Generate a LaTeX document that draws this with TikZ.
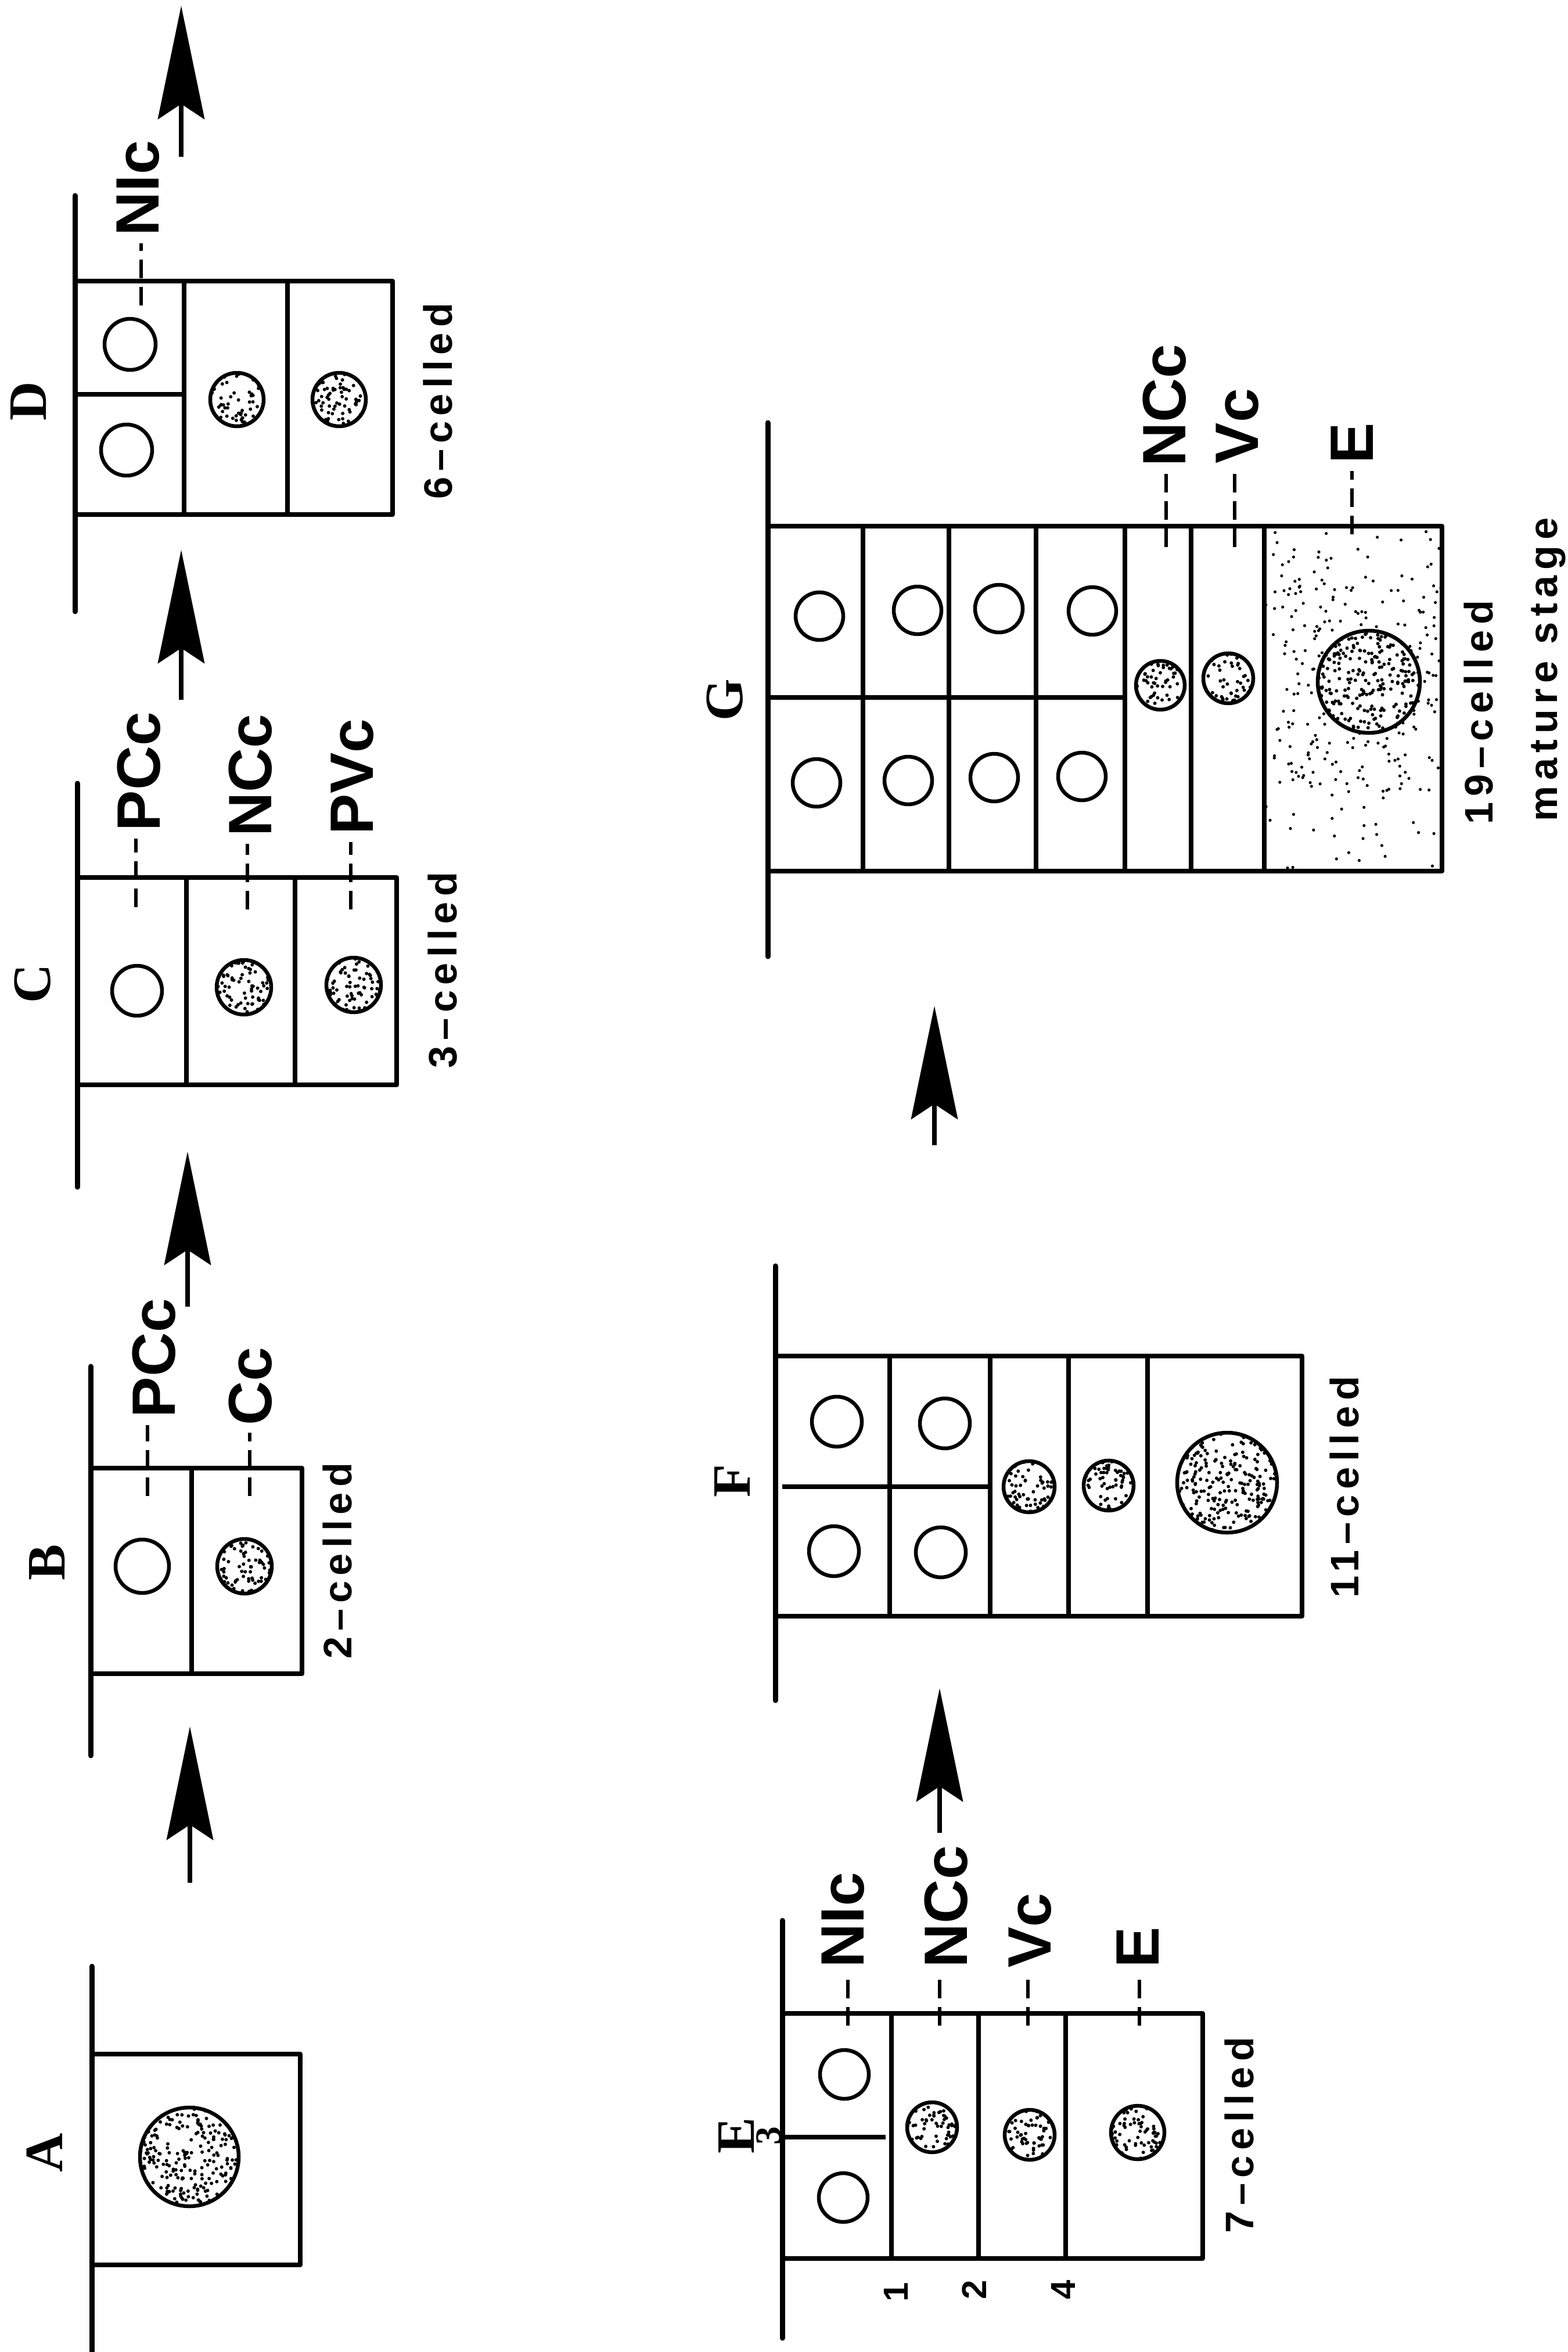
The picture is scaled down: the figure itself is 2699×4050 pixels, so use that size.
\documentclass[tikz,border=0pt]{standalone}
\usepackage{fontspec}
\setmainfont{Liberation Serif}
\newfontfamily\labfont{Liberation Sans}
\newfontfamily\cntfont[LetterSpace=14]{Liberation Sans}
\usetikzlibrary{arrows.meta}
\newcommand\stipnuc[4]{%
  \fill[white] (#1,#2) circle (#3);
  \begin{scope}
    \clip (#1,#2) circle (#3);
    \pgfmathtruncatemacro\stipn{1.6*#4}
    \foreach \k in {1,...,\stipn} {\fill ({#1+#3*rand},{#2+#3*rand}) circle (3.0);}
  \end{scope}
  \draw[nucl] (#1,#2) circle (#3);
}
\newcommand\opennuc[3]{\draw[nucl] (#1,#2) circle (#3);}
\begin{document}
\begin{tikzpicture}[x=0.1mm,y=-0.1mm,line join=round,
  wallline/.style={line width=0.9mm,line cap=round},
  cellbox/.style={line width=0.8mm},
  nucl/.style={line width=0.65mm},
  leader/.style={line width=0.55mm,dash pattern=on 3.2mm off 1.5mm,shorten >=1.2mm},
  lbl/.style={font=\labfont\bfseries\fontsize{30}{36}\selectfont,inner sep=0pt,rotate=90,anchor=west},
  cnt/.style={font=\cntfont\bfseries\fontsize{19.5}{24}\selectfont,inner sep=0pt,rotate=90,anchor=west},
  panel/.style={font=\bfseries\fontsize{26.5}{30}\selectfont,inner sep=0pt,rotate=90},
  num/.style={font=\labfont\bfseries\fontsize{17}{20}\selectfont,inner sep=0pt,rotate=90},
  growth/.style={line width=0.85mm,-{Stealth[length=19.5mm,width=8mm,inset=2.6mm]}}]
\useasboundingbox (0,0) rectangle (2699,4050);
\pgfmathsetseed{4242}

% ---------- A ----------
\draw[wallline] (158,3386) -- (158,4050);
\draw[cellbox] (158,3537) rectangle (517,3900);
\stipnuc{326}{3714}{85}{160}
\node[panel] (pA) at (77,3707) {A};

% ---------- B ----------
\draw[wallline] (156,2353) -- (156,3023);
\draw[cellbox] (156,2528) rectangle (520,2882);
\draw[cellbox] (330,2528) -- (330,2882);
\opennuc{245}{2697}{46}
\stipnuc{421}{2697}{47}{50}
\node[lbl] (bpcc) at (265,2442) {PCc};
\node[lbl] (bcc) at (431,2455) {Cc};
\coordinate (bpccl) at (254,2576);
\coordinate (bccl) at (430,2576);
\draw[leader] (bpccl) -- (bpccl |- bpcc.west);
\draw[leader] (bccl) -- (bccl |- bcc.west);
\node[cnt] (bcnt) at (581,2857) {2–celled};
\node[panel] (pB) at (81,2690) {B};

% ---------- C ----------
\draw[wallline] (133,1349) -- (133,2044);
\draw[cellbox] (133,1511) rectangle (683,1868);
\draw[cellbox] (321,1511) -- (321,1868);
\draw[cellbox] (508,1511) -- (508,1868);
\opennuc{236}{1706}{43}
\stipnuc{420}{1700}{47}{50}
\stipnuc{609}{1696}{47}{50}
\node[lbl] (cpcc) at (239,1432) {PCc};
\node[lbl] (cncc) at (431,1441) {NCc};
\node[lbl] (cpvc) at (607,1438) {PVc};
\coordinate (cpccl) at (234,1562);
\coordinate (cnccl) at (426,1566);
\coordinate (cpvcl) at (604,1566);
\draw[leader] (cpccl) -- (cpccl |- cpcc.west);
\draw[leader] (cnccl) -- (cnccl |- cncc.west);
\draw[leader] (cpvcl) -- (cpvcl |- cpvc.west);
\node[cnt] (ccnt) at (762,1840) {3–celled};
\node[panel] (pC) at (56,1694) {C};

% ---------- D ----------
\draw[wallline] (129,337) -- (129,1053);
\draw[cellbox] (129,484) rectangle (676,886);
\draw[cellbox] (317,484) -- (317,886);
\draw[cellbox] (495,484) -- (495,886);
\draw[cellbox] (129,679) -- (317,679);
\opennuc{224}{593}{44}
\opennuc{218}{775}{44}
\stipnuc{408}{688}{46}{48}
\stipnuc{584}{688}{46}{48}
\node[lbl] (dnic) at (238,407) {NIc};
\coordinate (dnicl) at (243,526);
\draw[leader] (dnicl) -- (dnicl |- dnic.west);
\node[cnt] (dcnt) at (754,860) {6–celled};
\node[panel] (pD) at (49,691) {D};

% ---------- E ----------
\draw[wallline] (1347,3307) -- (1347,4026);
\draw[cellbox] (1347,3467) rectangle (2071,3889);
\draw[cellbox] (1535,3467) -- (1535,3889);
\draw[cellbox] (1685,3467) -- (1685,3889);
\draw[cellbox] (1835,3467) -- (1835,3889);
\draw[cellbox] (1347,3680) -- (1525,3680);
\opennuc{1454}{3572}{42}
\opennuc{1452}{3784}{42}
\stipnuc{1605}{3663}{43}{42}
\stipnuc{1773}{3676}{43}{42}
\stipnuc{1959}{3672}{46}{48}
\node[lbl] (enic) at (1452,3389) {NIc};
\node[lbl] (encc) at (1629,3389) {NCc};
\node[lbl] (evc) at (1774,3389) {Vc};
\node[lbl] (ee) at (1959,3389) {E};
\coordinate (enicl) at (1460,3488);
\coordinate (enccl) at (1618,3488);
\coordinate (evcl) at (1770,3488);
\coordinate (eel) at (1962,3488);
\draw[leader] (enicl) -- (enicl |- enic.west);
\draw[leader] (enccl) -- (enccl |- encc.west);
\draw[leader] (evcl) -- (evcl |- evc.west);
\draw[leader] (eel) -- (eel |- ee.west);
\node[cnt] (ecnt) at (2134,3846) {7–celled};
\node[panel] (pE) at (1268,3677) {E};
\node[panel,font=\bfseries\fontsize{18}{20}\selectfont] (n3) at (1324,3678) {3};
\node[num] (n1) at (1543,3947) {1};
\node[num] (n2) at (1678,3943) {2};
\node[num] (n4) at (1831,3943) {4};

% ---------- F ----------
\draw[wallline] (1335,2180) -- (1335,2928);
\draw[cellbox] (1335,2335) rectangle (2242,2783);
\draw[cellbox] (1532,2335) -- (1532,2783);
\draw[cellbox] (1705,2335) -- (1705,2783);
\draw[cellbox] (1840,2335) -- (1840,2783);
\draw[cellbox] (1976,2335) -- (1976,2783);
\draw[cellbox] (1347,2560) -- (1704,2560);
\opennuc{1441}{2448}{43}
\opennuc{1436}{2671}{43}
\opennuc{1627}{2451}{43}
\opennuc{1620}{2673}{43}
\stipnuc{1772}{2560}{44}{44}
\stipnuc{1909}{2558}{43}{42}
\stipnuc{2113}{2553}{86}{165}
\node[cnt] (fcnt) at (2315,2752) {11–celled};
\node[panel] (pF) at (1261,2550) {F};

% ---------- G ----------
\begin{scope}
  \clip (2177,906) rectangle (2483,1500);
  \foreach \k in {1,...,150} {\fill ({2330+153*rand},{1203+297*rand}) circle (2.6);}
  \foreach \k in {1,...,190} {\fill ({2357+150*rand},{1174+190*rand}) circle (2.6);}
\end{scope}
\draw[wallline] (1322,728) -- (1322,1647);
\draw[cellbox] (1322,906) rectangle (2483,1500);
\foreach \xx in {1486,1634,1784,1937,2051,2177} {\draw[cellbox] (\xx,906) -- (\xx,1500);}
\draw[cellbox] (1322,1201) -- (1937,1201);
\opennuc{1411}{1061}{41}
\opennuc{1580}{1051}{41}
\opennuc{1720}{1048}{41}
\opennuc{1881}{1052}{41}
\opennuc{1406}{1348}{41}
\opennuc{1564}{1344}{41}
\opennuc{1712}{1339}{41}
\opennuc{1863}{1337}{41}
\stipnuc{1998}{1180}{42}{40}
\stipnuc{2115}{1168}{43}{42}
\stipnuc{2357}{1174}{88}{170}
\node[lbl] (gncc) at (2005,804) {NCc};
\node[lbl] (gvc) at (2131,799) {Vc};
\node[lbl] (ge) at (2328,799) {E};
\coordinate (gnccl) at (2008,942);
\coordinate (gvcl) at (2126,942);
\coordinate (gel) at (2328,920);
\draw[leader] (gnccl) -- (gnccl |- gncc.west);
\draw[leader] (gvcl) -- (gvcl |- gvc.west);
\draw[leader] (gel) -- (gel |- ge.west);
\node[cnt] (gcnt) at (2546,1420) {19–celled};
\node[cnt] (gstage) at (2666,1415) {mature stage};
\node[panel] (pG) at (1248,1205) {G};

% ---------- growth arrows ----------
\coordinate (ab0) at (327,3242); \coordinate (ab1) at (327,2973);
\coordinate (bc0) at (323,2250); \coordinate (bc1) at (323,1983);
\coordinate (cd0) at (312,1205); \coordinate (cd1) at (312,947);
\coordinate (dx0) at (312,270);  \coordinate (dx1) at (312,10);
\coordinate (ef0) at (1618,3156); \coordinate (ef1) at (1618,2907);
\coordinate (fg0) at (1609,1972); \coordinate (fg1) at (1609,1732);
\draw[growth] (ab0) -- (ab1);
\draw[growth] (bc0) -- (bc1);
\draw[growth] (cd0) -- (cd1);
\draw[growth] (dx0) -- (dx1);
\draw[growth] (ef0) -- (ef1);
\draw[growth] (fg0) -- (fg1);
\end{tikzpicture}
\end{document}
